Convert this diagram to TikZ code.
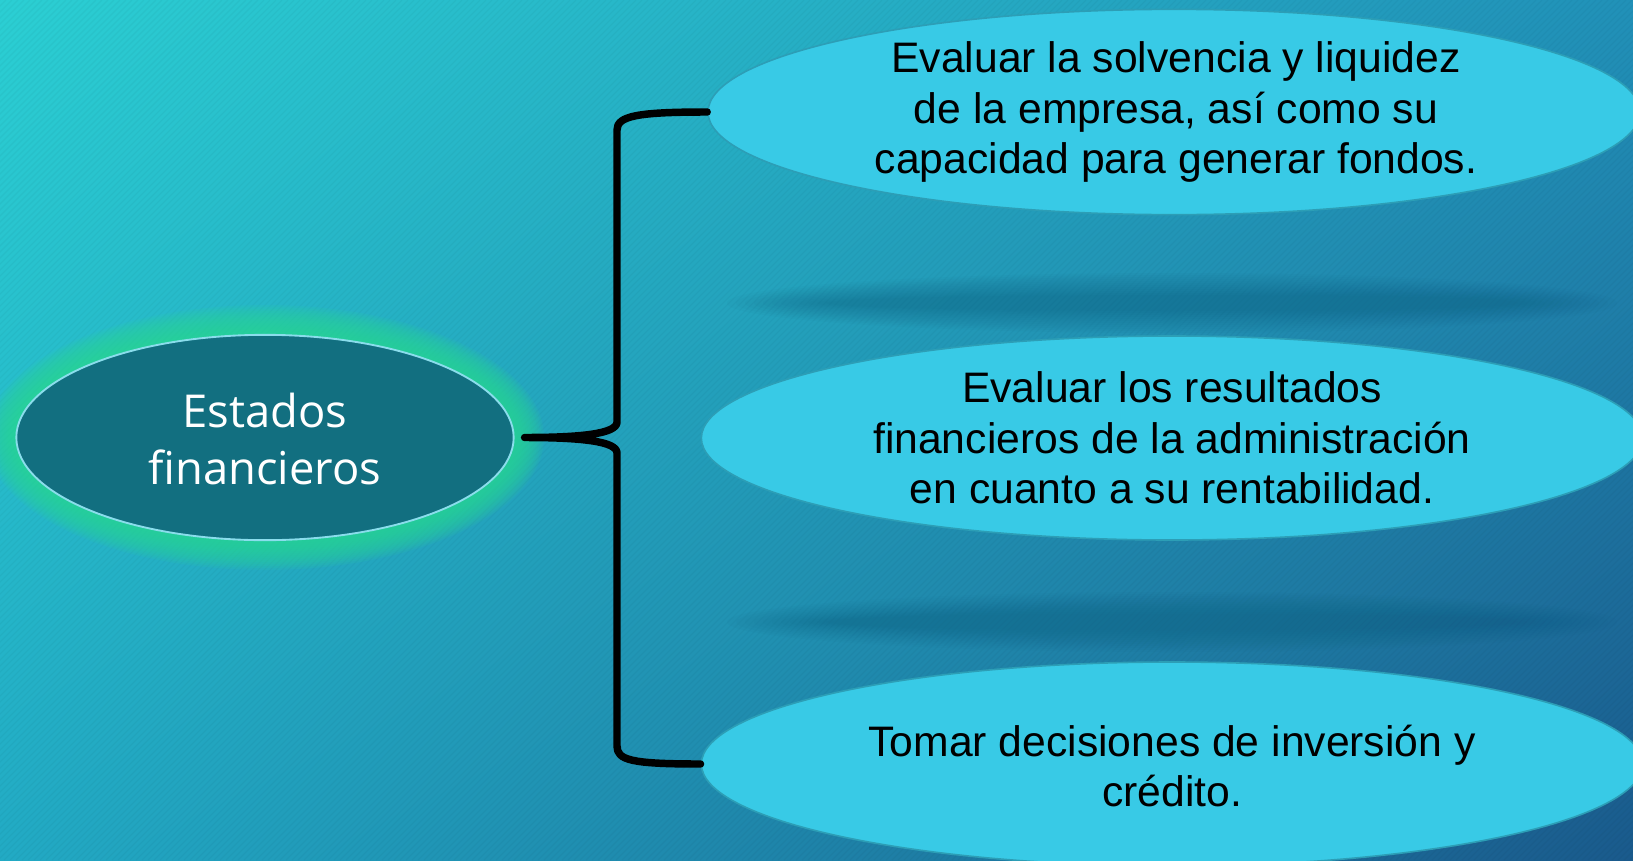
\documentclass[tikz,border=0pt]{standalone}
\usepackage{fontspec}
\setmainfont{Liberation Sans}
\newfontfamily\corefont{Open Sans}
\usetikzlibrary{shapes.geometric, calc, shadings}

\definecolor{bgUL}{HTML}{2BCFD3}
\definecolor{bgUR}{HTML}{2191B8}
\definecolor{bgLL}{HTML}{22AAC4}
\definecolor{bgLR}{HTML}{1A5A8C}
\definecolor{goalfill}{HTML}{38CAE6}
\definecolor{goaledge}{HTML}{2C9EB6}
\definecolor{corefill}{HTML}{126F80}
\definecolor{coreedge}{HTML}{8ADDEC}
\definecolor{glowgreen}{HTML}{2DD896}
\definecolor{bandcol}{HTML}{145F80}

\begin{document}
\begin{tikzpicture}[x=0.75pt, y=-0.75pt,
        goal/.style={ellipse, draw=goaledge, line width=1.2pt, fill=goalfill, inner sep=0pt,
            minimum width=706pt, minimum height=153pt},
        goaltext/.style={align=center, text=black, font=\fontsize{32}{38}\selectfont},
        core/.style={ellipse, draw=coreedge, line width=1.4pt, fill=corefill, inner sep=0pt,
            minimum width=373pt, minimum height=154pt},
        brace/.style={line width=5.6pt, line cap=round, line join=round, black},
    ]
    \useasboundingbox (0,0) rectangle (1633,860);

    % background
    \begin{scope}
        \clip (0,0) rectangle (1633,860);
        \shade[upper left=bgUL, upper right=bgUR, lower left=bgLL, lower right=bgLR]
            (0,0) rectangle (1633,860);
        \foreach \i in {0,6,...,2500}
            \draw[black, opacity=0.03, line width=0.8pt] (\i,0) -- ++(-860,860);
        % soft dark bands
        \foreach \s in {0,...,11} {
            \fill[bandcol, opacity=0.045] (1172,303) ellipse ({(445-\s*9)*0.75pt} and {(30-\s*2)*0.75pt});
            \fill[bandcol, opacity=0.045] (1172,622) ellipse ({(445-\s*9)*0.75pt} and {(30-\s*2)*0.75pt});
        }
    \end{scope}

    % glow round the source
    \foreach \g in {30,28,...,0}
        \fill[glowgreen, opacity=0.11] (265,437.5) ellipse ({(249+\g)*0.75pt} and {(102.5+\g)*0.75pt});

    % Source
    \node[core] (src) at (265,437.5) {};
    \node[white, align=center, font=\corefont\fontsize{34}{43}\selectfont] (srctext) at (265,439) {Estados\\financieros};

    % Goals
    \node[goal, minimum width=699pt, minimum height=154pt] (top) at (1174,112) {};
    \node[goal] (mid) at (1172,438) {};
    \node[goal] (bot) at (1172,764) {};
    \node[goaltext] (toptext) at (1176,112) {Evaluar la solvencia y liquidez\\de la empresa, así como su\\capacidad para generar fondos.};
    \node[goaltext] (midtext) at (1172,438) {Evaluar los resultados\\financieros de la administración\\en cuanto a su rentabilidad.};
    \node[goaltext] (bottext) at (1172,766) {Tomar decisiones de inversión y\\crédito.};

    % Brace
    \coordinate (tip) at ([xshift=7.5pt]src.east);
    \draw[brace] (top.west) .. controls +(-70,0) and +(0,-14) .. (617,130)
        -- (617,422) .. controls +(0,12) and +(55,0) .. (tip)
        .. controls +(55,0) and +(0,-12) .. (617,453)
        -- (617,746) .. controls +(0,14) and +(-70,0) .. (bot.west);
\end{tikzpicture}
\end{document}
